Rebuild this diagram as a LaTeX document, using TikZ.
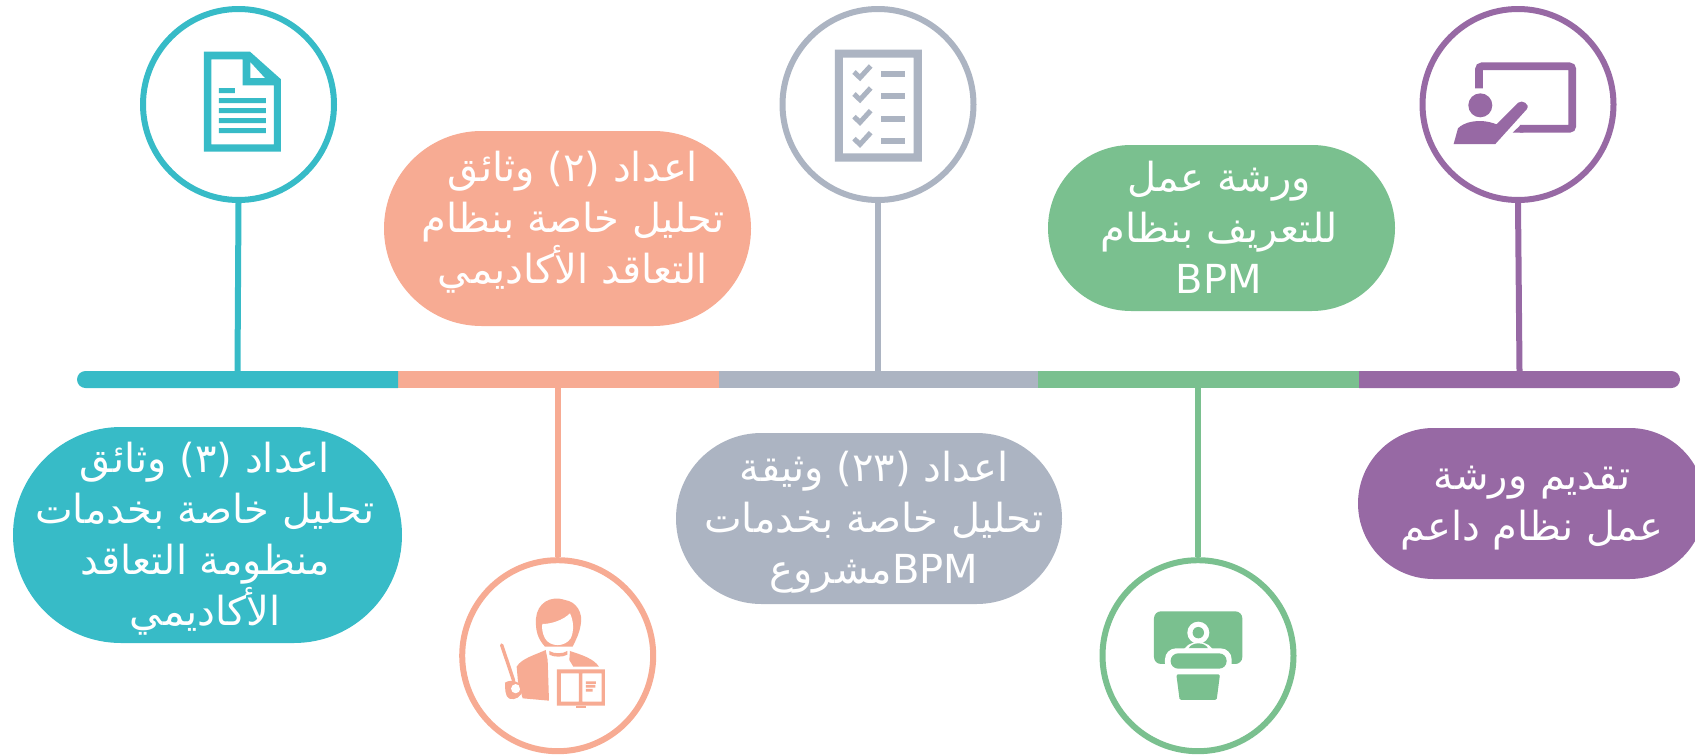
\documentclass[tikz,border=0pt]{standalone}
\usepackage{fontspec}
\usetikzlibrary{shapes.misc}
\TeXXeTstate=1
\newfontfamily\arabicfont[Script=Arabic]{DejaVu Sans}
\setmainfont{Liberation Sans}
\definecolor{cteal}{HTML}{37BBC7}
\definecolor{csalmon}{HTML}{F7AB93}
\definecolor{cgrey}{HTML}{ACB4C2}
\definecolor{cgreen}{HTML}{7AC08F}
\definecolor{cpurple}{HTML}{9769A4}
\newcommand{\rl}[1]{\beginR #1\endR}
\tikzset{
 ring/.style={circle,draw=#1,line width=6pt,fill=white,minimum size=191pt,inner sep=0pt},
 stem/.style={draw=#1,line width=6pt},
 pill/.style={rounded rectangle,fill=#1,inner sep=0pt},
 seg/.style={rectangle,fill=#1,inner sep=0pt,minimum height=17pt},
 lbl/.style={text=white,font=\arabicfont\fontsize{40}{51}\selectfont,align=center,inner sep=0pt,anchor=base},
 icon/.style 2 args={x=0.33333pt,y=-0.33333pt,shift={(#1,#2)}}
}
\begin{document}
\begin{tikzpicture}[x=1pt,y=-1pt]
\useasboundingbox (0,0) rectangle (1695,755);
% bar
\node[seg=csalmon,minimum width=321pt] (s2) at (558.5,379.5) {};
\node[seg=cgrey,minimum width=319pt] (s3) at (878.5,379.5) {};
\node[seg=cgreen,minimum width=321pt] (s4) at (1198.5,379.5) {};
\node[rounded rectangle,rounded rectangle right arc=none,fill=cteal,inner sep=0pt,minimum height=17pt,minimum width=321pt] (s1) at (237.5,379.5) {};
\node[rounded rectangle,rounded rectangle left arc=none,fill=cpurple,inner sep=0pt,minimum height=17pt,minimum width=321pt] (s5) at (1519.5,379.5) {};
% rings
\node[ring=cteal] (r1) at (238.5,104.5) {};
\node[ring=csalmon] (r2) at (557.7,655.7) {};
\node[ring=cgrey] (r3) at (878,104.5) {};
\node[ring=cgreen] (r4) at (1198,655.7) {};
\node[ring=cpurple] (r5) at (1518,104.5) {};
% stems
\draw[stem=cteal] (r1.south) -- (s1.north);
\draw[stem=csalmon] (r2.north) -- (s2.south -| r2.north);
\draw[stem=cgrey] (r3.south) -- (s3.north -| r3.south);
\draw[stem=cgreen] (r4.north) -- (s4.south -| r4.north);
\draw[stem=cpurple] (r5.south) -- (s5.north);
% pills
\node[pill=cteal,minimum width=389pt,minimum height=216pt] (p1) at (207.5,535) {};
\node[pill=csalmon,minimum width=367pt,minimum height=195pt] (p2) at (567.5,228.5) {};
\node[pill=cgrey,minimum width=386pt,minimum height=171pt] (p3) at (869,518.5) {};
\node[pill=cgreen,minimum width=347pt,minimum height=166pt] (p4) at (1221.5,228) {};
\node[pill=cpurple,minimum width=347pt,minimum height=151pt] (p5) at (1531.5,503.5) {};
% labels
\node[lbl] (t1) at (205,625) {\rl{اعداد (٣) وثائق}\\\rl{تحليل خاصة بخدمات}\\\rl{منظومة التعاقد}\\\rl{الأكاديمي}};
\node[lbl] (t2) at (573,283) {\rl{اعداد (٢) وثائق}\\\rl{تحليل خاصة بنظام}\\\rl{التعاقد الأكاديمي}};
\node[lbl] (t3) at (874,583) {\rl{اعداد (\beginL٢٣\endL) وثيقة}\\\rl{تحليل خاصة بخدمات}\\\rl{\beginL BPM\endL مشروع}};
\node[lbl] (t4) at (1219,293) {\rl{ورشة عمل}\\\rl{للتعريف بنظام}\\BPM};
\node[lbl] (t5) at (1532,540) {\rl{تقديم ورشة}\\\rl{عمل نظام داعم}};
% icon 1: document
\begin{scope}[icon={390}{0}]
\fill[cteal,even odd rule] (222,155) -- (360,155) -- (453,238) -- (453,455) -- (222,455) -- cycle
 (244,178) -- (338,178) -- (338,256) -- (432,256) -- (432,433) -- (244,433) -- cycle
 (361,186) -- (405,234) -- (361,234) -- cycle;
\fill[cteal] (267,264) rectangle (315,279) (267,294) rectangle (408,309) (267,324) rectangle (408,339) (267,354) rectangle (408,369) (267,384) rectangle (408,399);
\end{scope}
% icon 3: checklist
\begin{scope}[icon={2310}{0}]
\fill[cgrey,even odd rule] (195,149) rectangle (456,485) (219,173) rectangle (431,460);
\foreach \d in {0,66,134,200}{
 \draw[cgrey,line width=5pt] (252,\d+216) -- (270,\d+233) -- (302,\d+198);
 \fill[cgrey] (333,\d+213) rectangle (405,\d+231);
}
\end{scope}
% icon 5: presentation
\begin{scope}[icon={4230}{0}]
\draw[cpurple,line width=7.7pt,rounded corners=3pt] (207,265) -- (207,199) -- (487,199) -- (487,386.5) -- (330,386.5);
\fill[cpurple] (332,375) -- (308,398) -- (340,398) -- (340,375) -- cycle;
\fill[cpurple] (211,316) circle[radius=12pt];
\fill[cpurple] (131,432) -- (144,385) .. controls (160,368) and (205,352) .. (260,373) -- (325,308) .. controls (335,298) and (362,312) .. (350,328) -- (256,432) -- cycle;
\end{scope}
% icon 2: teacher
\begin{scope}[icon={1350}{1650}]
\draw[csalmon,line width=3.4pt,line cap=round] (155,285) -- (191,392);
\fill[csalmon] (165,398) .. controls (185,385) and (215,395) .. (216,420) .. controls (216,440) and (195,452) .. (178,446) .. controls (165,440) and (165,415) .. (165,398) -- cycle;
\fill[white] (197,416) circle[radius=4.6pt];
\fill[csalmon] (258,205) .. controls (262,160) and (300,135) .. (345,150) .. controls (380,155) and (400,190) .. (392,225) .. controls (388,250) and (380,265) .. (368,290) -- (285,290) .. controls (262,265) and (256,240) .. (258,205) -- cycle;
\fill[white] (277,222) .. controls (305,222) and (340,210) .. (360,190) .. controls (372,215) and (372,245) .. (362,265) .. controls (345,292) and (300,292) .. (285,265) .. controls (277,250) and (275,235) .. (277,222) -- cycle;
\fill[white] (288,296) rectangle (360,330);
\fill[csalmon] (200,350) .. controls (215,325) and (255,315) .. (287,300) .. controls (290,315) and (292,325) .. (293,330) -- (297,452) -- (218,445) -- (204,395) -- cycle;
\fill[csalmon] (298,303) .. controls (310,312) and (340,312) .. (352,303) -- (352,314) .. controls (340,322) and (310,322) .. (298,314) -- cycle;
\fill[csalmon] (360,303) .. controls (395,315) and (430,325) .. (447,350) -- (370,350) -- (358,330) -- cycle;
\fill[csalmon,even odd rule] (321,358) rectangle (465,467) (333,370) rectangle (387,455) (397,370) rectangle (455,455);
\fill[csalmon] (378,467) rectangle (408,473);
\fill[csalmon] (408,394) rectangle (438,402) (408,405) rectangle (436,413) (408,417) rectangle (428,425);
\end{scope}
% icon 4: podium
\begin{scope}[icon={3270}{1650}]
\fill[cgreen,rounded corners=7pt] (192,184) rectangle (457,342);
\fill[white] (325,248) circle[radius=11pt];
\fill[cgreen] (325,248) circle[radius=5.7pt];
\fill[white] (278,310) .. controls (285,265) and (365,265) .. (372,310) -- cycle;
\fill[cgreen] (296,295) .. controls (305,275) and (345,275) .. (354,295) -- cycle;
\fill[white,rounded corners=11pt] (225,295) rectangle (425,372);
\fill[cgreen,rounded corners=7.5pt] (242,310) rectangle (410,356);
\fill[cgreen,rounded corners=1.5pt] (259,373) -- (390,373) -- (380,450) -- (269,450) -- cycle;
\end{scope}
\end{tikzpicture}
\end{document}
